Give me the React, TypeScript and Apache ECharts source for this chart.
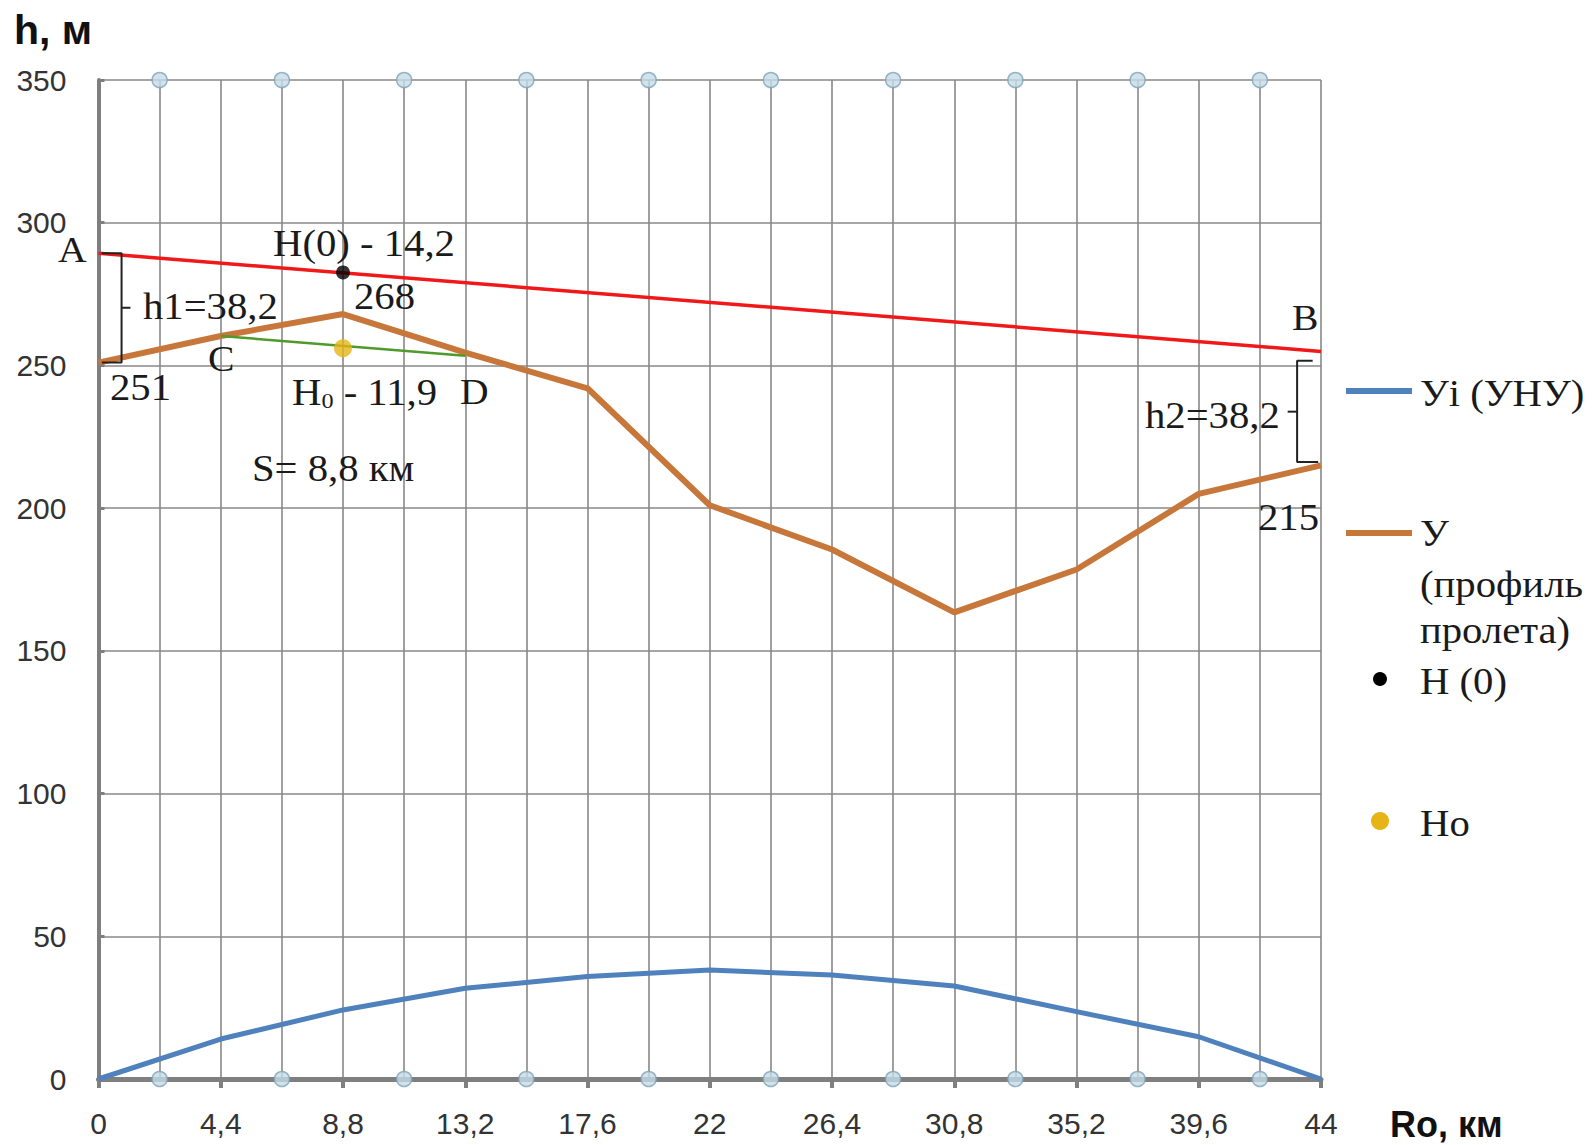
import React, { useEffect, useRef } from "react";
import * as echarts from "echarts";

// ---- data ----
const distances = [0, 4.4, 8.8, 13.2, 17.6, 22, 26.4, 30.8, 35.2, 39.6, 44];
const yiValues = [0, 14, 24.2, 31.8, 35.9, 38.2, 36.4, 32.6, 23.6, 14.8, 0];
const profileValues = [251, 260.3, 268, 254.5, 242, 201, 185.5, 163.5, 178.5, 205, 215];
const lineAB = [[0, 289.3], [44, 254.9]];
const lineCD = [[4.4, 260.3], [13.2, 253.4]];
const h0Point = [[8.8, 282.6]];
const hoPoint = [[8.8, 256]];
const markerX = [2.2, 6.6, 11, 15.4, 19.8, 24.2, 28.6, 33, 37.4, 41.8];
const markerLevels = [0, 350];
const bracketLeft = [[0.12, 289.3], [0.83, 289.3], [0.83, 251], [0.12, 251]];
const bracketLeftTick = [[0.83, 270.2], [1.15, 270.2]];
const bracketRight = [[43.7, 251.6], [43.14, 251.6], [43.14, 216.2], [43.9, 216.2]];
const bracketRightTick = [[43.14, 233.8], [42.8, 233.8]];
const xTicks = { min: 0, max: 44, step: 4.4 };
const yTicks = { min: 0, max: 350, step: 50 };

const SERIF = '"Liberation Serif", "Times New Roman", serif';
const SANS = '"Liberation Sans Narrow", "Liberation Sans", Arial, sans-serif';
const GRID_COLOR = "#888888";
const AXIS_COLOR = "#7f7f7f";
const STRETCH = 1.1;

export default function App() {
  const ref = useRef<HTMLDivElement>(null);

  useEffect(() => {
    if (!ref.current) return;
    const chart = echarts.init(ref.current, undefined, { renderer: "svg" });

    const markerData: number[][] = [];
    markerLevels.forEach((lv) => markerX.forEach((x) => markerData.push([x, lv])));

    const txt = (text: string, x: number, y: number, size = 37, extra: any = {}) => ({
      type: "text",
      x,
      y,
      scaleX: STRETCH,
      z: 100,
      style: {
        text,
        fontSize: size,
        fontFamily: SERIF,
        fill: "#1a1a1a",
        verticalAlign: "middle",
        align: "left",
        ...extra,
      },
    });

    const bracketStyle = { color: "#222", width: 2 };
    const bracketSeries = (data: number[][]) => ({
      type: "line",
      data,
      symbol: "none",
      silent: true,
      lineStyle: bracketStyle,
      itemStyle: { color: "#222" },
      z: 6,
    });

    const option: any = {
      animation: false,
      backgroundColor: "#ffffff",
      grid: { left: 98.5, right: 272, top: 80, bottom: 66, outerBoundsMode: "none" },
      xAxis: {
        type: "value",
        min: xTicks.min,
        max: xTicks.max,
        interval: xTicks.step,
        axisLine: { show: true, onZero: false, lineStyle: { color: AXIS_COLOR, width: 5 } },
        axisTick: { show: true, inside: false, length: 9, lineStyle: { color: AXIS_COLOR, width: 4 } },
        axisLabel: {
          margin: 29,
          fontSize: 30,
          fontFamily: SANS,
          color: "#333",
          formatter: (v: number) => String(Math.round(v * 10) / 10).replace(".", ","),
        },
        splitLine: { show: true, lineStyle: { color: GRID_COLOR, width: 1.6 } },
        minorTick: { show: false, splitNumber: 2 },
        minorSplitLine: { show: true, lineStyle: { color: GRID_COLOR, width: 1.6 } },
      },
      yAxis: {
        type: "value",
        min: yTicks.min,
        max: yTicks.max,
        interval: yTicks.step,
        axisLine: { show: true, lineStyle: { color: AXIS_COLOR, width: 4 } },
        axisTick: { show: true, inside: true, length: 6, lineStyle: { color: AXIS_COLOR, width: 3 } },
        axisLabel: { margin: 32, fontSize: 30, fontFamily: SANS, color: "#333" },
        splitLine: { show: true, lineStyle: { color: GRID_COLOR, width: 1.6 } },
      },
      series: [
        {
          name: "Уi (УНУ)",
          type: "line",
          data: distances.map((d, i) => [d, yiValues[i]]),
          symbol: "none",
          lineStyle: { color: "#4f81bd", width: 5 },
          itemStyle: { color: "#4f81bd" },
          z: 5,
        },
        {
          name: "У (профиль пролета)",
          type: "line",
          data: distances.map((d, i) => [d, profileValues[i]]),
          symbol: "none",
          lineStyle: { color: "#c8773b", width: 6 },
          itemStyle: { color: "#c8773b" },
          z: 5,
        },
        {
          name: "AB",
          type: "line",
          data: lineAB,
          symbol: "none",
          lineStyle: { color: "#f01818", width: 3.5 },
          itemStyle: { color: "#f01818" },
          z: 5,
        },
        {
          name: "CD",
          type: "line",
          data: lineCD,
          symbol: "none",
          lineStyle: { color: "#4e9a2a", width: 2.5 },
          itemStyle: { color: "#4e9a2a" },
          z: 6,
        },
        {
          name: "markers",
          type: "scatter",
          data: markerData,
          symbol: "circle",
          symbolSize: 15,
          itemStyle: { color: "#c4dbe6", borderColor: "#7ea3b8", borderWidth: 1.5 },
          z: 4,
        },
        {
          name: "H (0)",
          type: "scatter",
          data: h0Point,
          symbolSize: 14,
          itemStyle: { color: "#000" },
          z: 8,
        },
        {
          name: "Ho",
          type: "scatter",
          data: hoPoint,
          symbolSize: 18,
          itemStyle: { color: "#e6b416" },
          z: 8,
        },
        bracketSeries(bracketLeft),
        bracketSeries(bracketLeftTick),
        bracketSeries(bracketRight),
        bracketSeries(bracketRightTick),
      ],
      graphic: [
        // axis titles
        {
          type: "text",
          x: 14,
          y: 30,
          style: { text: "h, м", fontSize: 41, fontWeight: "bold", fontFamily: '"Liberation Sans", Arial, sans-serif', fill: "#111", verticalAlign: "middle" },
        },
        {
          type: "text",
          x: 1390,
          y: 1124,
          style: { text: "Ro, км", fontSize: 36, fontWeight: "bold", fontFamily: '"Liberation Sans", Arial, sans-serif', fill: "#111", verticalAlign: "middle" },
        },
        // annotations
        txt("A", 58, 250, 36),
        txt("H(0) - 14,2", 273, 243),
        txt("268", 354, 296),
        txt("h1=38,2", 143, 306),
        txt("C", 208, 359, 36),
        txt("251", 110, 387),
        {
          type: "text",
          x: 292,
          y: 392,
          scaleX: STRETCH,
          z: 100,
          style: {
            text: "{a|H}{b|0}{a| - 11,9}",
            verticalAlign: "middle",
            rich: {
              a: { fontSize: 37, fontFamily: SERIF, fill: "#1a1a1a" },
              b: { fontSize: 22, fontFamily: SERIF, fill: "#1a1a1a", padding: [16, 0, 0, 0] },
            },
          },
        },
        txt("D", 460, 392, 36),
        txt("S= 8,8 км", 252, 468),
        txt("B", 1292, 318, 36),
        txt("h2=38,2", 1145, 415),
        txt("215", 1258, 517),
        // legend
        { type: "line", shape: { x1: 1346, y1: 391, x2: 1412, y2: 391 }, style: { stroke: "#4f81bd", lineWidth: 6 } },
        txt("Уi (УНУ)", 1420, 393),
        { type: "line", shape: { x1: 1346, y1: 533, x2: 1412, y2: 533 }, style: { stroke: "#c8773b", lineWidth: 6 } },
        txt("У", 1420, 533),
        txt("(профиль", 1420, 584),
        txt("пролета)", 1420, 630),
        { type: "circle", shape: { cx: 1380, cy: 679, r: 7 }, style: { fill: "#000" } },
        txt("H (0)", 1420, 681),
        { type: "circle", shape: { cx: 1380, cy: 821, r: 9 }, style: { fill: "#e6b416" } },
        txt("Ho", 1420, 823),
      ],
    };

    chart.setOption(option);
    return () => chart.dispose();
  }, []);

  return (
    <div
      ref={ref}
      style={{ position: "absolute", left: 0, top: 0, width: 1593, height: 1145, background: "#fff" }}
    />
  );
}
